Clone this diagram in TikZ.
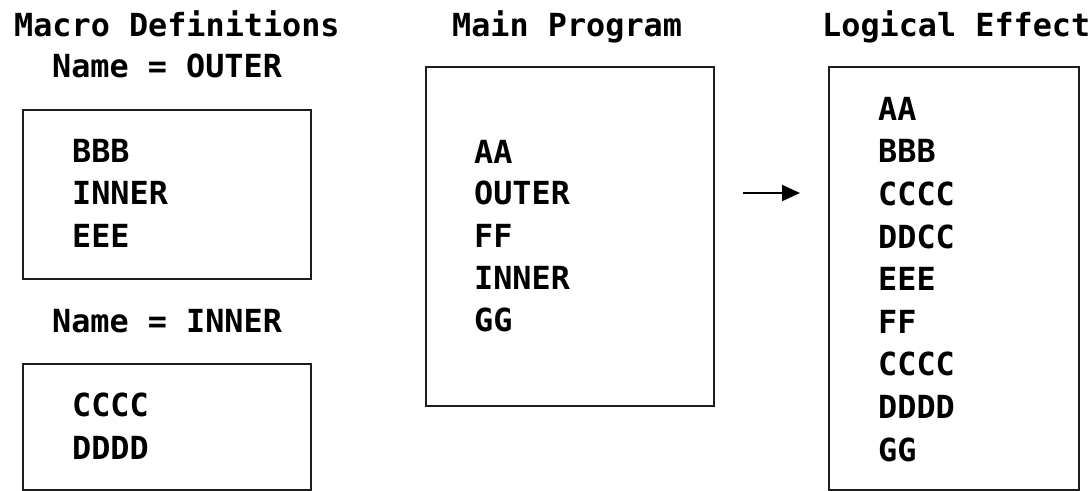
\documentclass[tikz,border=0pt]{standalone}
\usepackage{fontspec}
\usetikzlibrary{arrows.meta}
\newfontfamily\listfont{DejaVu Sans Mono}
\definecolor{frame}{RGB}{30,30,30}

\begin{document}
\begin{tikzpicture}[x=1pt, y=-1pt,
      txt/.style={font=\listfont\bfseries\fontsize{31.8}{42.6}\selectfont,
        inner sep=0pt, text height=23.2pt, text depth=0pt, anchor=west},
      box/.style={draw=frame, line width=2pt, inner sep=0pt, anchor=north west},
      arr/.style={-{Triangle[length=18pt, width=16pt]}, line width=2pt, black}]
    \useasboundingbox (0,0) rectangle (1091,490);
    % column titles
    \node[txt] (t1) at (14,25) {Macro Definitions};
    \node[txt] (t2) at (452,25) {Main Program};
    \node[txt] (t3) at (822,25) {Logical Effect};
    % macro definitions
    \node[txt] (n1) at (52,66) {Name = OUTER};
    \node[box, minimum width=288pt, minimum height=169pt] (outerbox) at (22,109) {};
    \node[txt] (o1) at (72,151) {BBB};
    \node[txt] (o2) at (72,193) {INNER};
    \node[txt] (o3) at (72,236) {EEE};
    \node[txt] (n2) at (52,321) {Name = INNER};
    \node[box, minimum width=288pt, minimum height=126pt] (innerbox) at (22,363) {};
    \node[txt] (i1) at (72,405) {CCCC};
    \node[txt] (i2) at (72,448) {DDDD};
    % main program
    \node[box, minimum width=288pt, minimum height=339pt] (mainbox) at (425,66) {};
    \node[txt] (m1) at (474,152) {AA};
    \node[txt] (m2) at (474,193) {OUTER};
    \node[txt] (m3) at (474,236) {FF};
    \node[txt] (m4) at (474,278) {INNER};
    \node[txt] (m5) at (474,320) {GG};
    % logical effect
    \node[box, minimum width=250pt, minimum height=423pt] (effectbox) at (828,66) {};
    \node[txt] (e1) at (878,109) {AA};
    \node[txt] (e2) at (878,151) {BBB};
    \node[txt] (e3) at (878,194) {CCCC};
    \node[txt] (e4) at (878,237) {DDCC};
    \node[txt] (e5) at (878,279) {EEE};
    \node[txt] (e6) at (878,322) {FF};
    \node[txt] (e7) at (878,364) {CCCC};
    \node[txt] (e8) at (878,407) {DDDD};
    \node[txt] (e9) at (878,450) {GG};
    \draw[arr, shorten <=28pt, shorten >=28pt]
      (mainbox.east |- m2.west) -- (effectbox.west |- m2.west);
  \end{tikzpicture}
\end{document}
